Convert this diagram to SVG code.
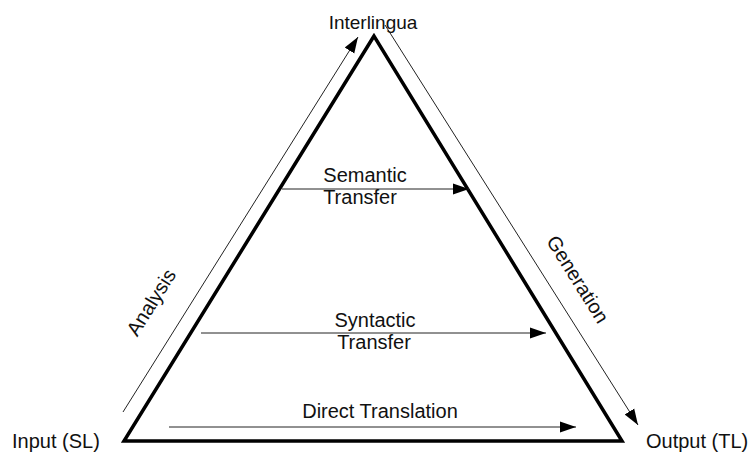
<svg xmlns="http://www.w3.org/2000/svg" width="750" height="453" viewBox="0 0 750 453">
  <style>
    .lbl { font-family: "Liberation Sans", Arial, sans-serif; font-size: 20px; fill: #111; }
    .edge { stroke: #222; stroke-width: 1; fill: none; }
    .tri { stroke: #000; stroke-width: 3.5; fill: none; stroke-linejoin: miter; }
  </style>
  <defs>
    <marker id="arr" viewBox="0 0 10 10" refX="10" refY="5" markerWidth="16" markerHeight="16" markerUnits="userSpaceOnUse" orient="auto">
      <path d="M0,1.5 L10,5 L0,8.5 Z" fill="#000"/>
    </marker>
  </defs>
  <rect width="750" height="453" fill="#fff"/>

  <!-- Translation pyramid -->
  <g id="pyramid">
    <polygon class="tri" points="374,36 124,441 622,441"/>
  </g>

  <g id="interlingua"><text class="lbl" x="373" y="29" text-anchor="middle" style="font-size:19px">Interlingua</text></g>
  <g id="input"><text class="lbl" x="12" y="448">Input (SL)</text></g>
  <g id="output"><text class="lbl" x="646" y="448">Output (TL)</text></g>

  <g id="connectors">
    <line class="edge" x1="123" y1="412" x2="358" y2="37" marker-end="url(#arr)"/>
    <line class="edge" x1="385" y1="25" x2="638" y2="425" marker-end="url(#arr)"/>
    <line class="edge" x1="282" y1="189" x2="469" y2="189" marker-end="url(#arr)"/>
    <line class="edge" x1="201" y1="333" x2="546" y2="333" marker-end="url(#arr)"/>
    <line class="edge" x1="169" y1="427" x2="576" y2="427" marker-end="url(#arr)"/>
  </g>

  <g id="analysis"><text class="lbl" x="0" y="0" text-anchor="middle" transform="translate(157,306) rotate(-58)">Analysis</text></g>
  <g id="generation"><text class="lbl" x="0" y="0" text-anchor="middle" transform="translate(572,283) rotate(58)">Generation</text></g>

  <g id="semantic">
    <text class="lbl" x="365" y="182" text-anchor="middle">Semantic</text>
    <text class="lbl" x="360" y="204" text-anchor="middle">Transfer</text>
  </g>
  <g id="syntactic">
    <text class="lbl" x="375" y="327" text-anchor="middle">Syntactic</text>
    <text class="lbl" x="374" y="349" text-anchor="middle">Transfer</text>
  </g>
  <g id="direct"><text class="lbl" x="380" y="418" text-anchor="middle">Direct Translation</text></g>
</svg>
